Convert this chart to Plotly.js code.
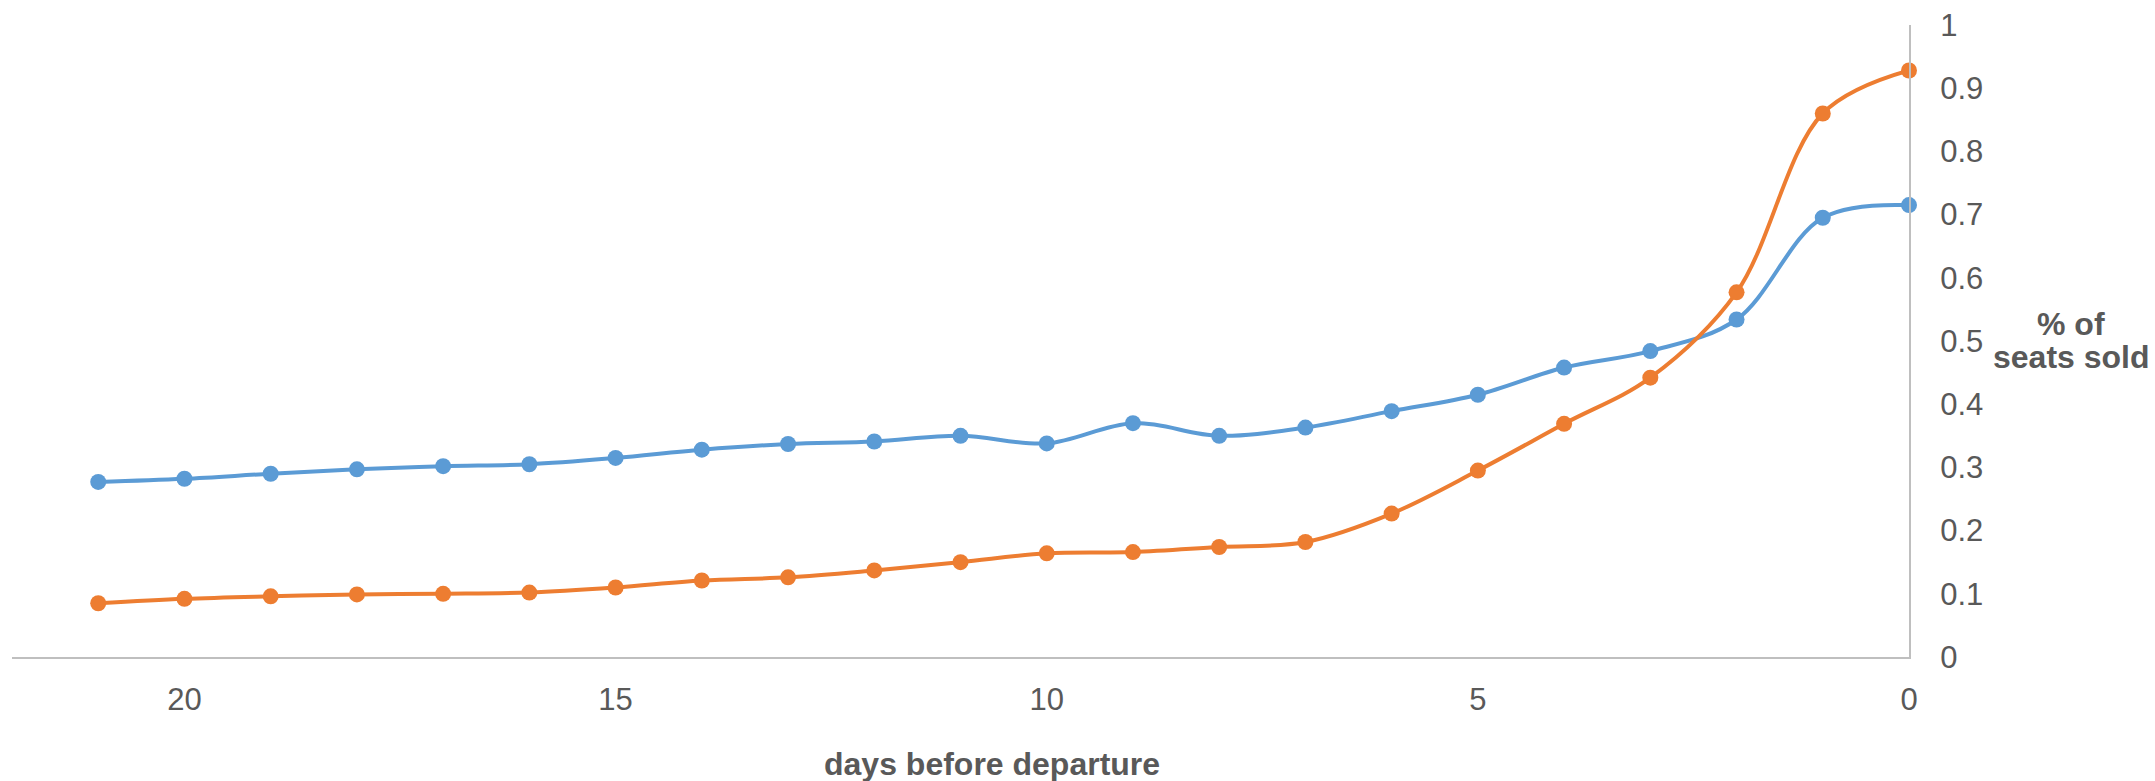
<!DOCTYPE html>
<html>
<head>
<meta charset="utf-8">
<script src="https://cdn.plot.ly/plotly-3.0.1.min.js"></script>
<style>
  html, body { margin: 0; padding: 0; background: #ffffff; }
  #chart { width: 2155px; height: 781px; }
</style>
</head>
<body>
<div id="chart"></div>
<script>
// Days before departure
const days = [21, 20, 19, 18, 17, 16, 15, 14, 13, 12, 11, 10, 9, 8, 7, 6, 5, 4, 3, 2, 1, 0];
// Share of seats sold, blue series
const seriesBlue = [0.277, 0.282, 0.290, 0.297, 0.302, 0.305, 0.315, 0.328, 0.337, 0.341, 0.350,
                    0.338, 0.370, 0.350, 0.363, 0.389, 0.415, 0.458, 0.484, 0.534, 0.695, 0.715];
// Share of seats sold, orange series
const seriesOrange = [0.085, 0.092, 0.096, 0.099, 0.100, 0.102, 0.110, 0.121, 0.126, 0.137, 0.150,
                      0.164, 0.166, 0.174, 0.182, 0.227, 0.295, 0.369, 0.442, 0.577, 0.860, 0.928];
// Axis tick labels
const xTickVals = [20, 15, 10, 5, 0];
const xTickText = ['20', '15', '10', '5', '0'];
const yTickVals = [0, 0.1, 0.2, 0.3, 0.4, 0.5, 0.6, 0.7, 0.8, 0.9, 1];
const yTickText = ['0', '0.1', '0.2', '0.3', '0.4', '0.5', '0.6', '0.7', '0.8', '0.9', '1'];
const xTitle = 'days before departure';
const yTitleLines = ['% of', 'seats sold'];

const FONT = 'Liberation Sans, Arial, Helvetica, sans-serif';
const TXT = '#595959';

function lineTrace(y, color, name) {
  return {
    type: 'scatter', mode: 'lines+markers', name: name,
    x: days, y: y,
    line: { color: color, width: 4, shape: 'spline', smoothing: 1 },
    marker: { color: color, size: 16 },
    cliponaxis: false,
    hoverinfo: 'x+y'
  };
}

const data = [
  lineTrace(seriesBlue, '#5B9BD5', 'Series 1'),
  lineTrace(seriesOrange, '#ED7D31', 'Series 2')
];

const layout = {
  width: 2155, height: 781,
  paper_bgcolor: '#ffffff', plot_bgcolor: '#ffffff',
  margin: { l: 12, r: 246, t: 25, b: 124, pad: 0 },
  showlegend: false,
  font: { family: FONT, color: TXT, size: 31 },
  xaxis: {
    range: [22, 0],
    tickvals: xTickVals, ticktext: xTickText,
    showgrid: false, zeroline: false,
    showline: true, linecolor: '#bfbfbf', linewidth: 2,
    ticks: '', ticklabelstandoff: 14,
    tickfont: { family: FONT, size: 31, color: TXT }
  },
  yaxis: {
    range: [0, 1], side: 'right',
    tickvals: yTickVals, ticktext: yTickText,
    showgrid: false, zeroline: false,
    showline: true, linecolor: '#bfbfbf', linewidth: 2,
    ticks: '', ticklabelstandoff: 23,
    tickfont: { family: FONT, size: 31, color: TXT }
  },
  annotations: [
    { text: xTitle, xref: 'paper', yref: 'paper', x: 0.5165, y: -0.170,
      xanchor: 'center', yanchor: 'middle', showarrow: false,
      font: { family: FONT, size: 32, color: TXT, weight: 'bold' } },
    { text: yTitleLines[0], xref: 'paper', yref: 'paper', x: 1.0855, y: 0.527,
      xanchor: 'center', yanchor: 'middle', showarrow: false,
      font: { family: FONT, size: 32, color: TXT, weight: 'bold' } },
    { text: yTitleLines[1], xref: 'paper', yref: 'paper', x: 1.0855, y: 0.474,
      xanchor: 'center', yanchor: 'middle', showarrow: false,
      font: { family: FONT, size: 32, color: TXT, weight: 'bold' } }
  ]
};

Plotly.newPlot('chart', data, layout, { displayModeBar: false, staticPlot: true });
</script>
</body>
</html>
